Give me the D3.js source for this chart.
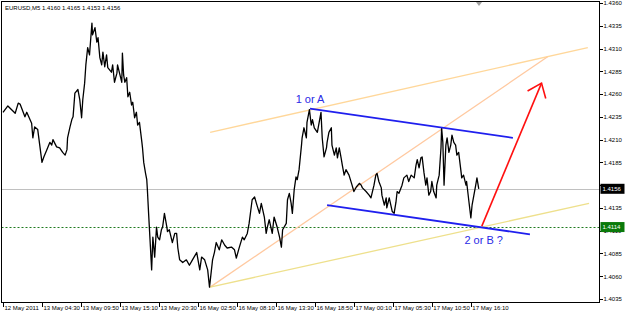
<!DOCTYPE html>
<html>
<head>
<meta charset="utf-8">
<script src="https://cdn.jsdelivr.net/npm/d3@7/dist/d3.min.js"></script>
<style>
    body { margin: 0; background: #fff; }
    svg { display: block; font-family: "Liberation Sans", Arial, sans-serif; }
    .axis text { fill: #000; font-size: 6px; }
    .axis line { stroke: #000; shape-rendering: crispEdges; }
</style>
</head>
<body>
<div id="chart"></div>
<script>
// EURUSD M5 close prices (bar index, close)
const bars = [
    0, 8, 20, 25, 28, 36, 39, 47, 49, 52, 57, 64, 67, 72, 77, 80, 82, 88, 93, 98,
    102, 105, 106, 110, 113, 115, 118, 123, 126, 129, 131, 134, 136, 139, 142, 146, 147, 151, 154, 156,
    159, 162, 164, 167, 170, 172, 178, 180, 183, 187, 188, 192, 195, 196, 198, 200, 203, 205, 208, 211,
    213, 216, 219, 221, 224, 228, 229, 231, 234, 236, 237, 239, 242, 244, 246, 249, 252, 254, 257, 260,
    262, 265, 269, 270, 273, 278, 282, 285, 287, 290, 295, 301, 306, 311, 318, 323, 326, 331, 336, 339,
    344, 347, 350, 355, 359, 364, 368, 375, 380, 383, 388, 393, 396, 401, 404, 409, 413, 416, 421, 424,
    429, 432, 434, 437, 442, 445, 450, 454, 457, 459, 465, 467, 470, 473, 475, 478, 481, 483, 486, 490,
    491, 494, 498, 499, 503, 506, 508, 511, 516, 519, 522, 524, 527, 531, 532, 535, 539, 540, 544, 547,
    549, 552, 555, 557, 560, 563, 568, 573, 576, 580, 585, 588, 590, 596, 601, 604, 609, 612, 614, 617,
    621, 622, 626, 629, 630, 634, 639, 642, 645, 647, 650, 655, 658, 663, 666, 670, 675, 678, 680, 683,
    686, 688, 691, 694, 696, 699, 702, 704, 707, 711, 712, 716, 719, 720, 722, 724, 727, 729, 732, 735,
    737, 740, 743, 745, 748, 752, 753, 756, 760, 761, 765, 768, 770, 773, 776, 778, 781
];
const closes = [
    1.4240, 1.4247, 1.4239, 1.4250, 1.4249, 1.4235, 1.4240, 1.4228, 1.4212, 1.4224, 1.4221, 1.4185, 1.4191, 1.4199, 1.4207, 1.4204, 1.4210, 1.4202, 1.4201, 1.4196,
    1.4193, 1.4199, 1.4212, 1.4224, 1.4232, 1.4235, 1.4261, 1.4265, 1.4254, 1.4234, 1.4254, 1.4272, 1.4292, 1.4311, 1.4303, 1.4338, 1.4325, 1.4333, 1.4317, 1.4322,
    1.4300, 1.4292, 1.4306, 1.4290, 1.4303, 1.4289, 1.4284, 1.4292, 1.4273, 1.4283, 1.4292, 1.4281, 1.4273, 1.4305, 1.4281, 1.4273, 1.4278, 1.4257, 1.4262, 1.4248,
    1.4251, 1.4234, 1.4240, 1.4226, 1.4229, 1.4207, 1.4201, 1.4185, 1.4173, 1.4166, 1.4155, 1.4129, 1.4092, 1.4067, 1.4103, 1.4081, 1.4114, 1.4103, 1.4100, 1.4111,
    1.4114, 1.4129, 1.4114, 1.4109, 1.4111, 1.4097, 1.4107, 1.4107, 1.4091, 1.4078, 1.4075, 1.4078, 1.4072, 1.4078, 1.4086, 1.4067, 1.4081, 1.4078, 1.4067, 1.4048,
    1.4078, 1.4086, 1.4097, 1.4089, 1.4100, 1.4094, 1.4091, 1.4092, 1.4089, 1.4080, 1.4092, 1.4103, 1.4100, 1.4107, 1.4118, 1.4144, 1.4147, 1.4140, 1.4129, 1.4140,
    1.4125, 1.4107, 1.4114, 1.4122, 1.4107, 1.4125, 1.4114, 1.4103, 1.4092, 1.4111, 1.4118, 1.4144, 1.4151, 1.4140, 1.4129, 1.4155, 1.4169, 1.4166, 1.4177, 1.4204,
    1.4212, 1.4223, 1.4212, 1.4229, 1.4243, 1.4226, 1.4232, 1.4223, 1.4218, 1.4229, 1.4240, 1.4212, 1.4191, 1.4201, 1.4207, 1.4218, 1.4223, 1.4204, 1.4193, 1.4201,
    1.4190, 1.4201, 1.4190, 1.4182, 1.4171, 1.4177, 1.4171, 1.4160, 1.4153, 1.4158, 1.4162, 1.4160, 1.4157, 1.4153, 1.4149, 1.4146, 1.4160, 1.4171, 1.4173, 1.4164,
    1.4157, 1.4149, 1.4138, 1.4146, 1.4135, 1.4146, 1.4131, 1.4129, 1.4141, 1.4153, 1.4151, 1.4160, 1.4168, 1.4171, 1.4164, 1.4171, 1.4168, 1.4182, 1.4188, 1.4179,
    1.4190, 1.4191, 1.4174, 1.4160, 1.4168, 1.4149, 1.4153, 1.4164, 1.4153, 1.4146, 1.4160, 1.4171, 1.4201, 1.4223, 1.4207, 1.4160, 1.4204, 1.4212, 1.4196, 1.4204,
    1.4215, 1.4207, 1.4204, 1.4193, 1.4196, 1.4174, 1.4168, 1.4171, 1.4160, 1.4164, 1.4141, 1.4124, 1.4138, 1.4149, 1.4160, 1.4168, 1.4156
];

const timeTicks = [0, 64, 128, 192, 256, 320, 384, 448, 512, 576, 640, 704, 768];
const timeLabels = ["12 May 2011", "13 May 04:30", "13 May 09:50", "13 May 15:10", "13 May 20:30",
    "16 May 02:50", "16 May 08:10", "16 May 13:30", "16 May 18:50", "17 May 00:10",
    "17 May 05:30", "17 May 10:50", "17 May 16:10"];
const priceTicks = [1.4360, 1.4335, 1.4310, 1.4285, 1.4260, 1.4235, 1.4210, 1.4185,
    1.4160, 1.4135, 1.4110, 1.4085, 1.4060, 1.4035];

const header = "EURUSD,M5  1.4160 1.4165 1.4153 1.4156";
const lastPrice = 1.4156;
const levelPrice = 1.4114;

// drawn objects: [bar1, price1, bar2, price2]
const channelTop = [340, 1.4218, 960, 1.4311];
const fanLine = [340, 1.4048, 894, 1.4301];
const channelLow = [340, 1.4048, 962, 1.4140];
const blueTop = [504, 1.4244, 837, 1.4212];
const blueBottom = [532, 1.4138, 865, 1.4106];
const redArrow = [786, 1.4115, 884, 1.4272];
const notes = [
    {bar: 504, price: 1.4254, text: "1 or A"},
    {bar: 789, price: 1.4100, text: "2 or B ?"}
];

let width = 625, height = 316;
let plot = {left: 1.5, top: 1.5, right: 599.5, bottom: 302.5};

let svg = d3.select("#chart").append("svg")
    .attr("width", width)
    .attr("height", height);

let xSc = d3.scaleLinear().domain([0, 980]).range([3, 600]);
let ySc = d3.scaleLinear().domain([1.4035, 1.4360]).range([299, 3]);

svg.append("clipPath").attr("id", "plotClip")
    .append("rect")
    .attr("x", plot.left).attr("y", plot.top)
    .attr("width", plot.right - plot.left).attr("height", plot.bottom - plot.top);

let g = svg.append("g").attr("clip-path", "url(#plotClip)");

// price line (grey) and level line (green dotted)
g.append("line")
    .attr("x1", plot.left).attr("x2", plot.right)
    .attr("y1", Math.round(ySc(lastPrice)) + 0.5).attr("y2", Math.round(ySc(lastPrice)) + 0.5)
    .attr("stroke", "#c0c0c0").attr("stroke-width", 1);
g.append("line")
    .attr("x1", plot.left).attr("x2", plot.right)
    .attr("y1", Math.round(ySc(levelPrice)) + 0.5).attr("y2", Math.round(ySc(levelPrice)) + 0.5)
    .attr("stroke", "#1f7a1f").attr("stroke-width", 1)
    .attr("stroke-dasharray", "2,2");

function trend(t, color, w) {
    return g.append("line")
        .attr("x1", xSc(t[0])).attr("y1", ySc(t[1]))
        .attr("x2", xSc(t[2])).attr("y2", ySc(t[3]))
        .attr("stroke", color).attr("stroke-width", w);
}

trend(channelTop, "#ffd79a", 1.3);
trend(fanLine, "#ffc9a0", 1.3);
trend(channelLow, "#eee08c", 1.3);

// the chart itself
let series = bars.map((b, i) => ({bar: b, close: closes[i]}));
g.append("path")
    .datum(series)
    .attr("fill", "none")
    .attr("stroke", "#000")
    .attr("stroke-width", 1.3)
    .attr("stroke-linejoin", "round")
    .attr("d", d3.line().x(d => xSc(d.bar)).y(d => ySc(d.close)));

trend(blueTop, "#1f1fee", 1.8);
trend(blueBottom, "#1f1fee", 1.8);

// red arrow
trend(redArrow, "#ff1010", 1.6);
let ax = xSc(redArrow[2]), ay = ySc(redArrow[3]);
let back = Math.atan2(ySc(redArrow[1]) - ay, xSc(redArrow[0]) - ax);
let barb = 16, spread = 38 * Math.PI / 180;
g.append("path")
    .attr("d", "M" + (ax + barb * Math.cos(back + spread)) + "," + (ay + barb * Math.sin(back + spread)) +
        "L" + ax + "," + ay +
        "L" + (ax + barb * Math.cos(back - spread)) + "," + (ay + barb * Math.sin(back - spread)))
    .attr("fill", "none").attr("stroke", "#ff1010").attr("stroke-width", 1.6);

g.selectAll(".note")
    .data(notes)
    .enter().append("text")
    .attr("class", "note")
    .attr("x", d => xSc(d.bar))
    .attr("y", d => ySc(d.price))
    .attr("dy", "0.35em")
    .attr("text-anchor", "middle")
    .attr("fill", "#2a2ae6")
    .style("font-size", "11px")
    .text(d => d.text);

// chart shift marker
svg.append("path")
    .attr("d", "M476,2L482,2L479,6Z")
    .attr("fill", "#a0a0a0");

// header
svg.append("text")
    .attr("x", 5).attr("y", 10)
    .style("font-size", "6px")
    .attr("fill", "#000")
    .text(header);

// frame
svg.append("rect")
    .attr("x", plot.left).attr("y", plot.top)
    .attr("width", plot.right - plot.left).attr("height", plot.bottom - plot.top)
    .attr("fill", "none").attr("stroke", "#000").attr("stroke-width", 1);

// price axis
svg.append("g")
    .attr("class", "axis")
    .attr("transform", "translate(" + plot.right + ",0)")
    .call(d3.axisRight(ySc).tickValues(priceTicks).tickSize(3).tickSizeOuter(0).tickPadding(1)
        .tickFormat(d3.format(".4f")))
    .call(a => a.select(".domain").remove());

// time axis
svg.append("g")
    .attr("class", "axis")
    .attr("transform", "translate(0," + plot.bottom + ")")
    .call(d3.axisBottom(xSc).tickValues(timeTicks).tickSize(4).tickSizeOuter(0)
        .tickFormat((d, i) => timeLabels[i]))
    .call(a => a.select(".domain").remove())
    .call(a => a.selectAll("text").attr("text-anchor", "start").attr("x", 1).attr("y", 3).attr("dy", "0.71em"));

// price labels
function priceTag(p, bg) {
    let yy = ySc(p);
    svg.append("rect")
        .attr("x", plot.right + 1).attr("y", yy - 5)
        .attr("width", 24).attr("height", 10)
        .attr("fill", bg);
    svg.append("text")
        .attr("x", plot.right + 3).attr("y", yy)
        .attr("dy", "0.35em")
        .style("font-size", "6px")
        .attr("fill", "#fff")
        .text(d3.format(".4f")(p));
}
priceTag(lastPrice, "#000");
priceTag(levelPrice, "#0a7a0a");
</script>
</body>
</html>
